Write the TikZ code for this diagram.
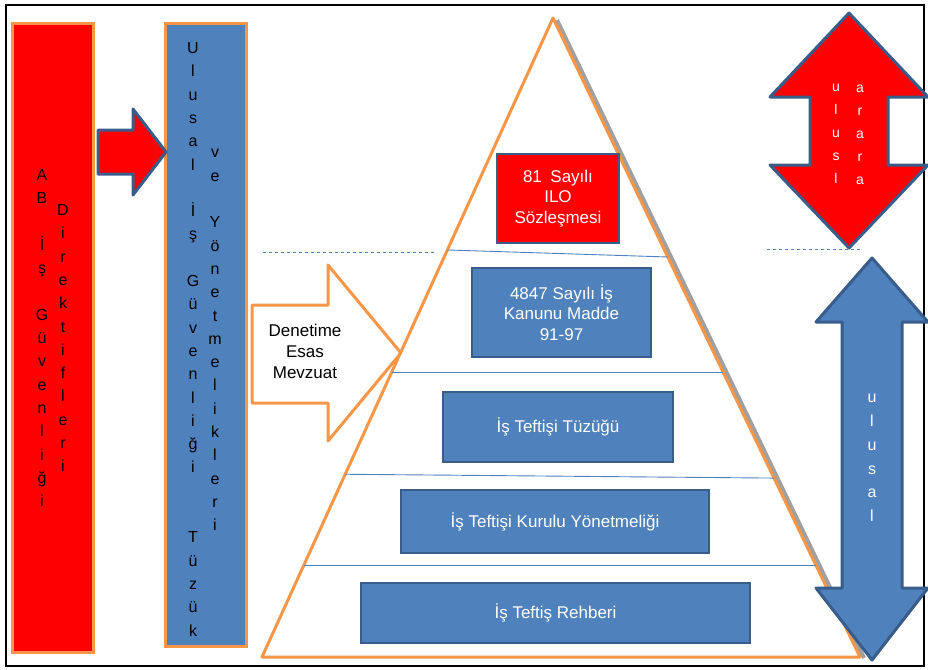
\documentclass[tikz,border=0pt]{standalone}
\usepackage{fontspec}
\setmainfont{Liberation Sans}
\usetikzlibrary{calc}
\definecolor{offblue}{RGB}{79, 129, 189}
\definecolor{edgeblue}{RGB}{56, 93, 138}
\definecolor{frameorange}{RGB}{247, 150, 70}
\definecolor{shadowgray}{RGB}{160, 160, 160}

\begin{document}
\begin{tikzpicture}[x=1pt, y=-1pt,
  tall/.style={draw=frameorange, line width=3pt, minimum width=81pt, inner sep=0pt},
  column/.style={anchor=north, align=center, inner sep=0pt, font=\fontsize{16}{23.3}\selectfont},
  level/.style={draw=edgeblue, line width=2pt, fill=offblue, text=white, align=center, font=\fontsize{17}{20.5}\selectfont, inner sep=0pt},
  sep/.style={offblue, line width=0.9pt},
  fat/.style={draw=edgeblue, line width=3pt, line join=round}
]
  \useasboundingbox (0, 0) rectangle (928, 669);
  \draw[line width=2pt] (6, 5) rectangle (924, 666);

  % AB and national rules
  \node[tall, fill=red, minimum height=628pt] (ab) at (52.5, 338) {};
  \node[column] (abl) at (42, 169.3) {A\\B\\~\\İ\\ş\\~\\G\\ü\\v\\e\\n\\l\\i\\ğ\\i};
  \node[column] (abr) at (63, 204.3) {D\\i\\r\\e\\k\\t\\i\\f\\l\\e\\r\\i};

  \node[tall, fill=offblue, minimum height=622pt] (ulusal) at (206, 335) {};
  \node[column] (ugl) at (193, 42.3) {U\\l\\u\\s\\a\\l\\~\\İ\\ş\\~\\G\\ü\\v\\e\\n\\l\\i\\ğ\\i\\~\\~\\T\\ü\\z\\ü\\k};
  \node[column] (ugr) at (215, 149.3) {v\\e\\~\\Y\\ö\\n\\e\\t\\m\\e\\l\\i\\k\\l\\e\\r\\i};

  \draw[fat, fill=red] (98, 130) -- (133, 130) -- (133, 109) -- (166, 152) -- (133, 195) -- (133, 174) -- (98, 174) -- cycle;

  % Pyramid
  \coordinate (apex) at (553, 18);
  \coordinate (bl) at (262, 657);
  \coordinate (br) at (860, 657);

  \draw[offblue, dashed, line width=0.8pt] (263, 252) -- (436, 252);
  \draw[offblue, dashed, line width=0.8pt] (767, 249) -- (862, 249);

  \draw[frameorange, line width=3pt, fill=white, line join=round] (252, 305) -- (328, 305) -- (328, 265) -- (401, 353) -- (328, 441) -- (328, 403) -- (252, 403) -- cycle;
  \node[align=center, font=\fontsize{17}{21}\selectfont] (mevzuat) at (305, 351) {Denetime\\Esas\\Mevzuat};

  \draw[shadowgray, line width=4pt] ($(apex)+(4, 2)$) -- ($(br)+(4, 1)$);
  \draw[frameorange, line width=3pt, fill=white, line join=round] (apex) -- (bl) -- (br) -- cycle;

  \draw[sep] ($(apex)!0.363!(bl)$) -- ($(apex)!0.374!(br)$);
  \draw[sep] ($(apex)!0.554!(bl)$) -- ($(apex)!0.554!(br)$);
  \draw[sep] ($(apex)!0.714!(bl)$) -- ($(apex)!0.720!(br)$);
  \draw[sep] ($(apex)!0.856!(bl)$) -- ($(apex)!0.856!(br)$);

  \node[level, fill=red, minimum width=122pt, minimum height=89pt] (ilo) at (558, 198.5) {81\enspace Sayılı\\ILO\\Sözleşmesi};
  \node[level, minimum width=179pt, minimum height=89pt] (kanun) at (561.5, 312.5) {4847 Sayılı İş\\Kanunu Madde\\91-97};
  \node[level, minimum width=230pt, minimum height=70pt] (tuzuk) at (558, 427) {İş Teftişi Tüzüğü};
  \node[level, minimum width=308pt, minimum height=63pt] (kurul) at (555, 521.5) {İş Teftişi Kurulu Yönetmeliği};
  \node[level, minimum width=389pt, minimum height=60pt] (rehber) at (555.5, 613) {İş Teftiş Rehberi};

  % Double arrows
  \draw[fat, fill=red] (849, 13) -- (928, 97) -- (888, 97) -- (888, 165) -- (928, 165) -- (849, 248) -- (770, 165) -- (810, 165) -- (810, 97) -- (770, 97) -- cycle;
  \node[column, text=white, font=\fontsize{14}{23}\selectfont] (redl) at (836, 84.4) {u\\l\\u\\s\\l};
  \node[column, text=white, font=\fontsize{14}{23}\selectfont] (redr) at (860, 84.4) {a\\r\\a\\r\\a};

  \draw[fat, fill=offblue] (872, 258) -- (928, 322) -- (902, 322) -- (902, 588) -- (928, 588) -- (872, 660) -- (816, 588) -- (842, 588) -- (842, 322) -- (816, 322) -- cycle;
  \node[column, text=white, font=\fontsize{16}{23.8}\selectfont] (blu) at (872, 394.1) {u\\l\\u\\s\\a\\l};
\end{tikzpicture}
\end{document}
